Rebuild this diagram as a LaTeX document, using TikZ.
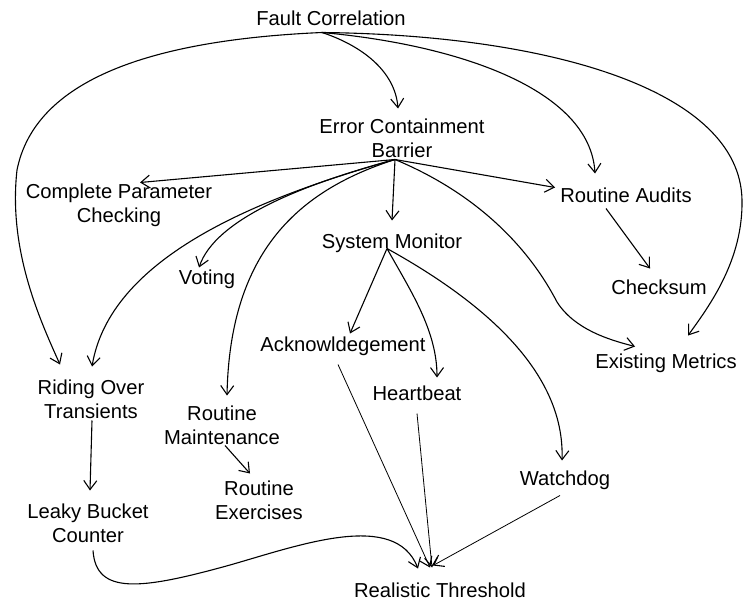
\documentclass[tikz,border=0pt]{standalone}
\usepackage{fontspec}
\setmainfont{Liberation Sans}
\usetikzlibrary{arrows.meta,calc}
\begin{document}
\begin{tikzpicture}[x=1pt,y=-1pt,
  lbl/.style={inner sep=0pt,align=center,font=\fontsize{20.2}{24.5}\selectfont},
  edge/.style={line width=1.1pt,-{Straight Barb[length=9pt,width=13pt,line width=1.1pt]}},
  thinedge/.style={edge,line width=0.8pt}]
\useasboundingbox[fill=white] (0,0) rectangle (751,610);
\node[lbl] (fc) at (331,18.5) {Fault Correlation};
\node[lbl] (ecb) at (402,138.5) {Error Containment\\Barrier};
\node[lbl] (cpc) at (119,205.5) {Complete Parameter\\Checking};
\node[lbl] (ra) at (626,195.5) {Routine Audits};
\node[lbl] (sm) at (392,243.5) {System Monitor};
\node[lbl] (vot) at (207,279.5) {Voting};
\node[lbl] (cks) at (659,287.5) {Checksum};
\node[lbl] (ack) at (343,346.5) {Acknowldegement};
\node[lbl] (em) at (666,363.5) {Existing Metrics};
\node[lbl] (hb) at (417,393.5) {Heartbeat};
\node[lbl] (rot) at (91,399.5) {Riding Over\\Transients};
\node[lbl] (rm) at (222,425.5) {Routine\\Maintenance};
\node[lbl] (re) at (259,500.5) {Routine\\Exercises};
\node[lbl] (lbc) at (88,523.5) {Leaky Bucket\\Counter};
\node[lbl] (wd) at (565,480.5) {Watchdog};
\node[lbl] (rt) at (440,590.5) {Realistic Threshold};
% from Fault Correlation
\draw[edge] ($(fc)+(-9,14)$) .. controls (360,45) and (395,70) .. ($(ecb)+(-4,-30)$);
\draw[edge] ($(fc)+(-9,14)$) .. controls (150,40) and (35,80) .. (17,170) .. controls (8,250) and (40,320) .. ($(rot)+(-31,-35)$);
\draw[edge] ($(fc)+(-9,14)$) .. controls (460,45) and (590,90) .. ($(ra)+(-31,-22)$);
\draw[edge] ($(fc)+(-9,14)$) .. controls (550,35) and (740,90) .. (742,200) .. controls (743,260) and (710,305) .. ($(em)+(22,-28)$);
% from Error Containment Barrier
\draw[edge] ($(ecb)+(-7,21)$) -- ($(cpc)+(21,-23)$);
\draw[edge] ($(ecb)+(-7,21)$) -- ($(ra)+(-71,-8)$);
\draw[edge] ($(ecb)+(-7,21)$) -- ($(sm)+(0,-23)$);
\draw[edge] ($(ecb)+(-7,21)$) .. controls (300,185) and (215,220) .. ($(vot)+(-8,-12)$);
\draw[edge] ($(ecb)+(-7,21)$) .. controls (250,200) and (110,260) .. ($(rot)+(1,-33)$);
\draw[edge] ($(ecb)+(-7,21)$) .. controls (300,190) and (230,250) .. ($(rm)+(5,-30)$);
\draw[edge] ($(ecb)+(-7,21)$) .. controls (480,195) and (530,250) .. (557,302) .. controls (575,330) and (610,340) .. ($(em)+(-31,-17)$);
% Routine Audits
\draw[edge] ($(ra)+(-20,13)$) -- ($(cks)+(-9,-19)$);
% from System Monitor
\draw[edge] ($(sm)+(-5,5)$) -- ($(ack)+(7,-13)$);
\draw[edge] ($(sm)+(-5,5)$) .. controls (410,290) and (437,330) .. ($(hb)+(20,-16)$);
\draw[edge] ($(sm)+(-5,5)$) .. controls (480,300) and (565,370) .. ($(wd)+(-3,-20)$);
% others
\draw[edge] ($(rm)+(3,20)$) -- ($(re)+(-9,-27)$);
\draw[edge] ($(rot)+(1,21)$) -- ($(lbc)+(2,-33)$);
\draw[edge] ($(lbc)+(5,27)$) .. controls (96,595) and (140,590) .. (230,565) .. controls (300,545) and (395,510) .. ($(rt)+(-22,-22)$);
\draw[thinedge] ($(ack)+(-5,18)$) -- ($(rt)+(-10,-23)$);
\draw[thinedge] ($(hb)+(0,20)$) -- ($(rt)+(-8,-23)$);
\draw[thinedge] ($(wd)+(-5,15)$) -- ($(rt)+(-7,-25)$);
\end{tikzpicture}
\end{document}
